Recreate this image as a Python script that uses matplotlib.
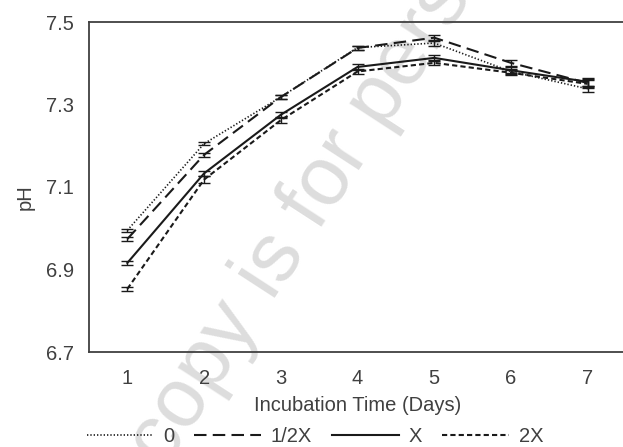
import matplotlib
matplotlib.use("Agg")
import matplotlib.pyplot as plt

plt.rcParams["font.family"] = ["Liberation Sans", "DejaVu Sans"]

days = [1, 2, 3, 4, 5, 6, 7]
ph_0 = [6.995, 7.205, 7.318, 7.438, 7.449, 7.380, 7.338]
ph_half = [6.974, 7.178, 7.318, 7.437, 7.462, 7.401, 7.352]
ph_x = [6.916, 7.133, 7.275, 7.391, 7.413, 7.383, 7.355]
ph_2x = [6.853, 7.118, 7.262, 7.380, 7.401, 7.377, 7.350]
err_0 = [0.004, 0.004, 0.005, 0.005, 0.006, 0.006, 0.008]
err_half = [0.004, 0.005, 0.005, 0.006, 0.006, 0.007, 0.009]
err_x = [0.005, 0.007, 0.007, 0.008, 0.007, 0.007, 0.010]
err_2x = [0.004, 0.008, 0.008, 0.007, 0.006, 0.006, 0.009]
labels = ["0", "1/2X", "X", "2X"]
yticks = [6.7, 6.9, 7.1, 7.3, 7.5]

TXT = "#404040"
LINE = "#1a1a1a"
FS = 14.5

fig = plt.figure(figsize=(6.23, 4.47), dpi=100)
ax = fig.add_axes([89 / 623, 1 - 352 / 447, 537 / 623, 330 / 447])

# faint watermark, drawn under the axes
fig.text(165 / 623, 1 - 470 / 447, "copy is for personal use only",
         rotation=57, rotation_mode="anchor", ha="left", va="baseline",
         fontsize=60, color="#dddddd", zorder=-1)
ax.set_facecolor("none")

styles = [
  dict(linestyle=(0, (0.8, 1.2)), linewidth=1.2),
  dict(linestyle=(0, (6, 3)), linewidth=1.5),
  dict(linestyle="-", linewidth=1.5),
  dict(linestyle=(0, (2.5, 1.5)), linewidth=1.5),
]
series = [(ph_0, err_0), (ph_half, err_half), (ph_x, err_x), (ph_2x, err_2x)]

handles = []
for (vals, errs), st, lab in zip(series, styles, labels):
  ax.errorbar(days, vals, yerr=errs, color=LINE, capsize=4, elinewidth=1.0,
              capthick=1.0, linestyle="none")
  h, = ax.plot(days, vals, color=LINE, label=lab, **st)
  handles.append(h)

ax.set_xlim(0.5, 7.5)
ax.set_ylim(6.7, 7.5)
ax.set_xticks(days)
ax.set_yticks(yticks)
ax.set_yticklabels([f"{v:.1f}" for v in yticks])
ax.tick_params(length=0, labelsize=FS, labelcolor=TXT)
ax.tick_params(axis="y", pad=11)
ax.tick_params(axis="x", pad=12)
for s in ax.spines.values():
  s.set_color("#404040")
  s.set_linewidth(1.3)

ax.set_xlabel("Incubation Time (Days)", fontsize=FS, color=TXT, labelpad=6)
ax.set_ylabel("pH", fontsize=FS, color=TXT, va="center")
ax.yaxis.set_label_coords((25 - 89) / 537, 0.47)

fig.legend(handles=handles, labels=labels, loc="center",
           bbox_to_anchor=(315 / 623, 1 - 437 / 447), ncol=4, frameon=False,
           fontsize=FS, labelcolor=TXT, handlelength=3.3,
           handletextpad=0.5, columnspacing=1.0)

fig.savefig("out.png", dpi=100)
